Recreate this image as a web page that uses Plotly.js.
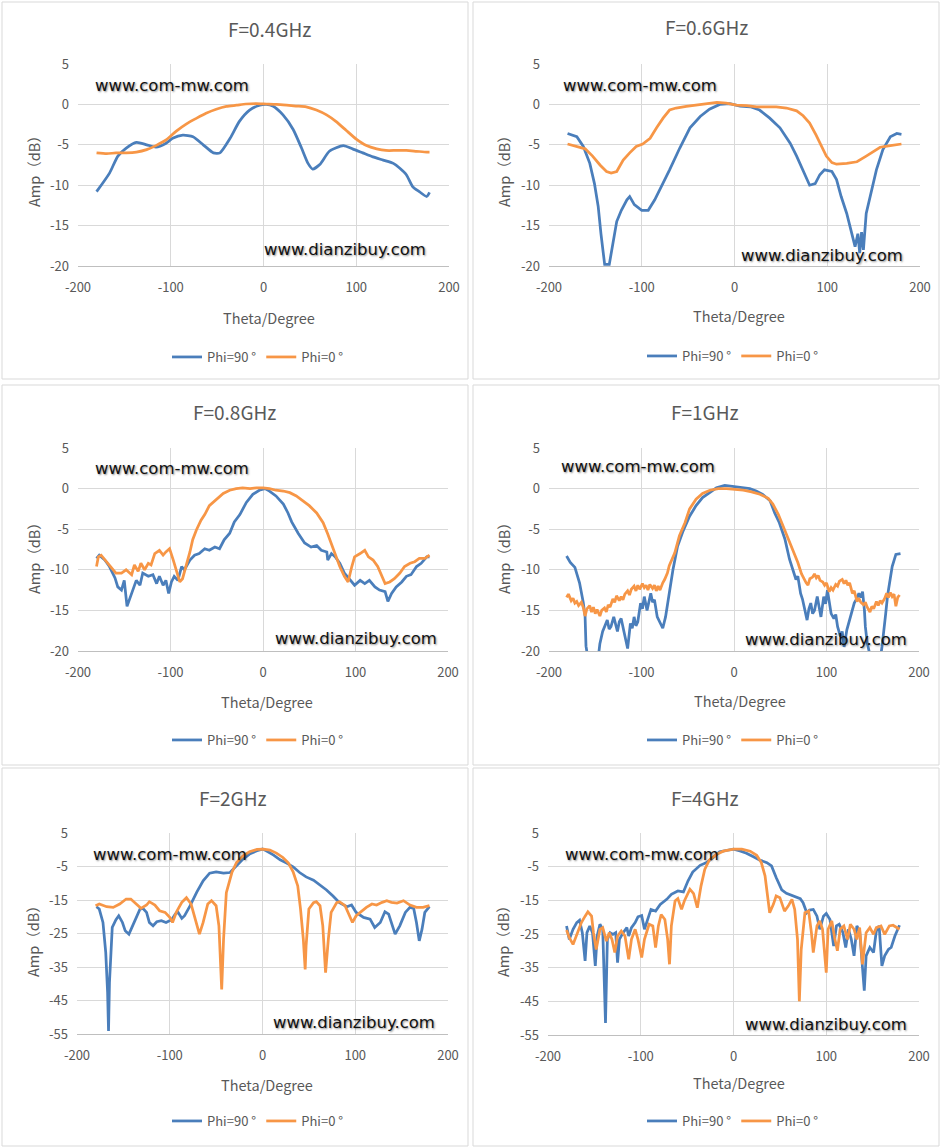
<!DOCTYPE html>
<html>
<head>
<meta charset="utf-8">
<script src="https://cdn.plot.ly/plotly-3.0.1.min.js"></script>
<style>
  html, body { margin: 0; padding: 0; background: #fff; }
  #gd { width: 941px; height: 1148px; }
</style>
</head>
<body>
<div id="gd"></div>
<script>
// panel titles and series names
var panelTitles = ['F=0.4GHz', 'F=0.6GHz', 'F=0.8GHz', 'F=1GHz', 'F=2GHz', 'F=4GHz'];
var seriesNames = ['Phi=90 °', 'Phi=0 °'];

// tick labels
var xTickVals = [-200, -100, 0, 100, 200];
var xTickText = ['-200', '-100', '0', '100', '200'];
var yTickValsA = [5, 0, -5, -10, -15, -20];
var yTickTextA = ['5', '0', '-5', '-10', '-15', '-20'];
var yTickValsB = [5, -5, -15, -25, -35, -45, -55];
var yTickTextB = ['5', '-5', '-15', '-25', '-35', '-45', '-55'];

// F=0.4GHz
var t90_04 = [-180,-166,-157,-148,-137,-126,-116,-105,-98,-87,-76,-65,-54,-47,-36,-26,-15,-4,3,10,21,32,41,48,53,61,71,86,96,107,118,129,140,147,154,161,168,176,179];
var a90_04 = [-10.8,-8.5,-6.4,-5.4,-4.7,-5.0,-5.3,-4.8,-4.2,-3.8,-4.0,-5.0,-6.0,-6.0,-4.2,-2.1,-0.7,-0.1,0,-0.2,-1.3,-3.1,-5.4,-7.3,-8.0,-7.4,-5.8,-5.1,-5.5,-6.0,-6.5,-6.9,-7.3,-7.9,-8.7,-10.2,-10.8,-11.4,-10.9];
var t0_04 = [-180,-169,-159,-148,-137,-126,-116,-105,-94,-83,-72,-62,-51,-40,-29,-19,-8,3,14,25,35,46,57,68,78,89,100,111,122,132,143,154,165,176,179];
var a0_04 = [-6.0,-6.1,-6.0,-6.0,-5.9,-5.6,-5.1,-4.4,-3.3,-2.4,-1.7,-1.1,-0.6,-0.25,-0.1,0.05,0.1,0.05,0,-0.1,-0.2,-0.3,-0.7,-1.3,-2.1,-3.2,-4.3,-5.1,-5.5,-5.7,-5.7,-5.7,-5.8,-5.9,-5.9];

// F=0.6GHz
var t90_06 = [-180,-170,-163,-156,-151,-147,-144,-140,-135,-131,-127,-122,-116,-113,-108,-100,-93,-86,-79,-70,-59,-48,-37,-27,-16,-5,6,17,27,38,49,60,67,74,81,87,92,97,105,110,115,121,126,130,133,135,137,139,142,148,153,160,168,175,180];
var a90_06 = [-3.6,-4.0,-5.2,-7.3,-9.8,-12.6,-16.0,-19.8,-19.8,-17.2,-14.5,-13.1,-11.8,-11.4,-12.4,-13.1,-13.1,-11.8,-10.2,-8.1,-5.4,-2.9,-1.5,-0.6,0,0.1,-0.2,-0.3,-0.7,-1.7,-2.9,-4.8,-6.4,-8.3,-10.0,-9.8,-8.7,-8.1,-8.3,-9.3,-11.4,-13.5,-16.0,-17.6,-16.0,-18.4,-15.8,-18.0,-13.5,-10.6,-8.1,-5.6,-4.0,-3.6,-3.7];
var t0_06 = [-180,-170,-161,-153,-145,-138,-133,-127,-120,-113,-106,-99,-91,-84,-77,-70,-63,-52,-41,-30,-19,-9,2,13,24,35,45,56,67,74,81,88,94,99,105,110,121,132,142,150,157,168,180];
var a0_06 = [-4.9,-5.2,-5.5,-6.4,-7.5,-8.3,-8.5,-8.3,-6.9,-6.0,-5.2,-4.9,-4.2,-2.9,-1.7,-0.7,-0.45,-0.25,-0.1,0.1,0.25,0.15,-0.1,-0.15,-0.3,-0.3,-0.3,-0.45,-0.8,-1.4,-2.3,-3.8,-5.2,-6.4,-7.2,-7.4,-7.3,-7.1,-6.4,-5.8,-5.3,-5.1,-4.9];

// F=0.8GHz
var t90_08 = [-180,-177,-171,-166,-160,-157,-153,-150,-147,-143,-141,-137,-133,-130,-124,-119,-115,-112,-108,-105,-102,-99,-96,-92,-88,-85,-79,-74,-69,-63,-58,-52,-47,-42,-36,-31,-25,-18,-11,-4,2,7,14,22,27,31,38,45,52,58,63,69,70,74,78,83,88,94,99,105,110,115,121,126,132,135,139,144,150,155,160,166,171,177,180];
var a90_08 = [-8.6,-8.2,-8.8,-9.6,-11.0,-12.1,-12.5,-11.3,-14.5,-13.3,-12.5,-11.3,-11.9,-10.4,-10.8,-10.6,-11.7,-10.8,-11.9,-11.3,-12.9,-11.5,-10.8,-11.3,-9.6,-10.0,-8.8,-8.2,-8.0,-7.4,-7.6,-7.2,-7.4,-6.3,-5.5,-4.1,-3.2,-1.7,-0.7,-0.2,0,-0.3,-0.9,-1.9,-3.0,-4.1,-5.5,-6.7,-7.2,-7.0,-7.6,-7.8,-8.8,-8.0,-8.4,-9.2,-10.4,-11.3,-11.9,-11.3,-11.7,-11.3,-12.1,-12.5,-12.7,-13.9,-12.9,-12.1,-11.5,-10.8,-10.6,-9.6,-9.2,-8.4,-8.4];
var t0_08 = [-180,-178,-175,-169,-164,-159,-153,-148,-142,-139,-135,-132,-128,-124,-121,-117,-112,-108,-105,-101,-97,-94,-90,-87,-83,-79,-76,-72,-67,-63,-58,-50,-43,-36,-29,-22,-14,-7,0,7,14,22,29,36,43,50,58,65,70,74,78,83,88,92,96,99,105,110,114,119,124,128,132,137,142,148,153,159,164,169,175,180];
var a0_08 = [-9.6,-8.4,-8.2,-9.0,-9.6,-10.4,-10.4,-10.0,-10.6,-9.4,-10.2,-9.2,-10.0,-9.2,-9.4,-8.0,-7.6,-8.2,-7.8,-7.4,-8.8,-10.0,-11.5,-11.1,-9.6,-7.8,-6.3,-5.1,-3.9,-3.2,-2.1,-1.3,-0.6,-0.2,0,0.1,0,0.1,0.1,0,-0.2,-0.3,-0.5,-0.9,-1.5,-2.1,-3.0,-4.2,-5.6,-6.8,-8.0,-9.6,-10.8,-11.5,-9.6,-8.4,-8.0,-7.6,-8.4,-8.8,-9.6,-10.6,-11.7,-11.5,-11.1,-10.4,-9.6,-9.2,-9.0,-8.6,-8.6,-8.2];

// F=1GHz
var t90_1 = [-181,-177,-172,-167,-163,-161,-160,-155,-149,
  -145,-142,-140,-137,-135,-133,-130,-128,-126,-124,-122,-119,-117,-115,-112,-110,-108,-106,-104,-101,-99,-97,-94,-92,-90,-88,-86,-83,-80,-77,-74,-72,-70,-66,
  -61,-55,-48,-41,-34,-26,-19,-10,-1,8,17,24,31,39,44,49,55,
  60,64,67,69,72,74,76,79,81,83,85,87,90,92,94,97,99,101,103,105,108,110,112,115,117,119,122,124,126,128,130,133,135,137,139,141,142,144,146,150,155,158,160,162,164,166,168,171,175,180];
var a90_1 = [-8.3,-9.1,-9.7,-11.6,-14.0,-15.7,-19.4,-23,-23,
  -19.1,-17.6,-17.0,-16.2,-17.3,-17.0,-15.8,-16.9,-17.6,-16.4,-16.0,-17.6,-18.5,-19.7,-16.6,-17.2,-15.8,-16.9,-16.4,-14.1,-14.8,-13.3,-15.0,-13.8,-12.9,-14.0,-13.7,-15.8,-16.6,-17.2,-15.8,-14.3,-12.9,-10.0,
  -7.1,-5.2,-3.4,-2.1,-1.1,-0.4,0.1,0.4,0.25,0.1,0,-0.3,-0.7,-1.5,-3.0,-4.2,-6.2,
  -8.7,-10.3,-11.2,-10.8,-12.9,-13.6,-14.5,-16.2,-14.8,-14.1,-15.4,-15.0,-13.3,-14.6,-15.8,-13.3,-14.2,-12.5,-13.8,-15.4,-16.0,-15.5,-17.0,-18.2,-17.6,-19.5,-17.4,-16.6,-15.8,-15.0,-14.1,-13.5,-12.9,-13.4,-12.7,-15.0,-17.0,-19.0,-19.9,-22,-22,-21,-19.5,-17.0,-15.4,-13.2,-11.7,-9.6,-8.1,-8.0];
var t0_1 = [-181,-179,-176,-174,-172,-170,-168,-165,-163,-161,-159,-156,-154,-152,-150,-148,-145,-143,-140,-138,-136,-134,-131,-129,-127,-124,-122,-120,-118,-115,-113,-111,-108,-106,-104,-102,-99,-97,-95,-93,-91,-88,-86,-84,-82,-80,-77,-75,-72,-70,
  -64,-59,-53,-48,-41,-34,-26,-17,-8,1,10,19,28,37,42,48,53,58,64,69,
  73,75,78,80,82,85,87,89,91,93,96,98,100,103,105,107,110,112,114,117,119,121,123,125,128,130,133,135,137,140,142,144,147,149,151,154,156,158,160,163,165,167,169,171,173,175,177,179];
var a0_1 = [-13.4,-13.0,-13.8,-13.5,-14.1,-13.9,-14.4,-14.0,-14.6,-15.7,-14.8,-14.4,-15.2,-14.6,-15.4,-14.9,-15.7,-15.0,-14.7,-15.2,-14.3,-14.6,-13.6,-14.0,-13.2,-13.8,-13.3,-13.7,-13.0,-12.6,-13.1,-12.4,-12.0,-12.6,-11.9,-12.4,-11.7,-12.2,-11.9,-12.5,-11.8,-12.3,-11.9,-12.6,-12.0,-12.5,-11.6,-11.2,-10.4,-9.5,
  -7.9,-5.8,-4.2,-2.5,-1.3,-0.6,-0.2,0,0,-0.1,-0.2,-0.4,-0.7,-1.2,-1.9,-3.2,-4.6,-6.2,-7.9,-9.1,
  -10.5,-11.0,-11.6,-11.9,-11.1,-10.9,-10.5,-11.0,-10.7,-11.3,-11.5,-11.9,-11.6,-12.7,-12.2,-12.5,-11.8,-12.0,-11.4,-11.2,-11.7,-11.3,-11.9,-11.6,-12.9,-12.6,-13.9,-13.5,-14.0,-14.3,-14.0,-14.6,-15.2,-14.5,-14.8,-13.9,-14.4,-13.8,-14.1,-13.5,-12.9,-13.4,-12.8,-13.3,-13.0,-14.5,-13.4,-13.1];

// F=2GHz
var t90_2 = [-179,-176,-172,-169,-167,-166,-165,-163,-162,-158,-155,-151,-148,-144,-140,-136,-132,-129,-125,-122,-118,-114,-109,-104,-98,-94,-91,-87,-84,-78,-71,-64,-57,-50,-42,-35,-28,-21,-14,-6,0,4,12,19,26,33,40,47,55,62,69,76,83,91,96,101,109,116,121,127,132,136,139,143,148,154,159,163,166,169,172,175,180];
var a90_2 = [-17.0,-17.7,-21.7,-30.7,-42.7,-54.1,-39.7,-27.7,-23.2,-20.9,-19.7,-21.7,-24.2,-25.2,-22.7,-19.7,-17.7,-17.5,-18.7,-21.7,-22.7,-21.5,-21.2,-21.7,-20.9,-19.2,-18.7,-20.5,-19.7,-16.7,-12.7,-9.3,-7.0,-6.6,-7.0,-6.8,-4.8,-2.8,-1.3,-0.3,0.2,-0.3,-1.6,-3.0,-4.0,-5.1,-6.8,-8.1,-9.1,-10.6,-12.0,-13.8,-15.8,-17.0,-16.5,-18.7,-20.2,-20.7,-23.2,-21.7,-18.5,-19.2,-21.7,-25.2,-22.7,-18.7,-17.2,-17.5,-21.7,-27.2,-23.7,-18.7,-17.0];
var t0_2 = [-180,-176,-168,-161,-154,-147,-142,-136,-131,-125,-122,-116,-111,-105,-100,-97,-93,-87,-82,-77,-71,-68,-64,-59,-55,-50,-47,-44,-42,-39,-33,-28,-21,-14,-6,1,8,15,22,28,33,38,41,44,46,47,50,55,58,62,65,68,71,74,80,83,89,92,97,101,107,112,118,123,129,134,139,145,152,159,166,173,180];
var a0_2 = [-16.7,-16.2,-17.0,-17.2,-16.2,-14.7,-14.7,-16.2,-17.5,-16.5,-15.5,-16.5,-18.2,-18.7,-20.2,-21.7,-18.7,-15.7,-14.3,-16.2,-21.7,-25.2,-21.7,-16.2,-15.2,-16.7,-22.7,-41.7,-26.7,-12.8,-6.8,-3.8,-1.8,-0.6,0.1,0.2,-0.1,-1.0,-2.3,-4.0,-6.6,-10.8,-17.7,-26.7,-35.7,-28.7,-17.7,-15.8,-15.5,-16.7,-22.7,-36.7,-26.7,-18.7,-15.8,-15.5,-16.7,-18.7,-21.7,-19.7,-18.2,-17.2,-16.2,-16.5,-15.7,-15.2,-15.7,-15.9,-15.2,-16.5,-17.2,-17.2,-16.7];

// F=4GHz
var t90_4 = [-180,-177,-173,-169,-166,-163,-160,-158,-155,-152,-149,-147,-144,-141,-138,-136,-133,-130,-127,-125,-123,-119,-115,-113,-110,-106,-103,-99,-96,-93,-89,-84,-79,-72,-67,-60,-54,-49,-44,-36,-29,-22,-15,-8,0,7,14,21,28,36,41,46,52,57,64,72,75,79,82,86,90,93,97,100,104,108,111,114,118,121,124,127,130,133,136,141,143,147,151,154,157,160,163,167,170,174,179];
var a90_4 = [-22.6,-26.6,-23.6,-21.6,-20.9,-24.6,-33.0,-24.6,-22.6,-24.6,-34.5,-25.6,-22.1,-23.6,-51.4,-26.6,-24.6,-25.1,-24.6,-33.5,-26.6,-24.6,-23.1,-25.6,-23.1,-21.6,-19.9,-19.5,-23.6,-21.1,-17.7,-18.2,-16.2,-14.7,-13.2,-12.2,-12.5,-9.2,-6.6,-4.6,-3.8,-2.3,-0.6,-0.2,0.2,-0.3,-1.0,-2.0,-3.0,-3.8,-4.8,-8.2,-11.9,-12.9,-13.7,-14.5,-15.7,-18.7,-17.9,-17.7,-19.7,-23.6,-19.7,-18.9,-20.7,-28.6,-22.6,-22.1,-24.6,-29.0,-23.6,-26.6,-31.5,-22.6,-24.1,-41.8,-31.5,-29.0,-30.5,-24.1,-22.6,-34.5,-31.5,-29.6,-29.0,-25.6,-22.4];
var t0_4 = [-180,-177,-173,-169,-164,-160,-157,-153,-151,-148,-144,-141,-137,-134,-131,-128,-125,-121,-117,-113,-110,-106,-103,-99,-96,-91,-87,-84,-81,-78,-74,-71,-69,-67,-63,-60,-56,-53,-47,-43,-39,-35,-31,-26,-18,-11,0,9,18,25,30,34,37,39,43,46,50,55,59,63,66,69,71,73,77,81,84,86,90,93,96,100,102,106,109,112,115,119,123,126,130,133,136,139,143,147,151,154,159,163,168,172,179];
var a0_4 = [-23.8,-26.1,-28.1,-25.1,-21.6,-19.7,-18.4,-19.7,-24.6,-29.6,-23.6,-23.1,-27.1,-24.6,-26.6,-30.5,-25.6,-24.1,-25.6,-32.5,-26.6,-23.6,-26.6,-32.0,-26.6,-22.1,-22.6,-29.0,-22.6,-19.2,-20.7,-26.6,-34.0,-22.6,-15.2,-14.5,-17.7,-15.2,-11.7,-13.0,-17.2,-10.7,-5.8,-3.0,-1.3,-0.4,0.2,0.2,-0.4,-1.6,-3.8,-7.7,-13.7,-18.7,-16.2,-13.7,-14.2,-18.2,-16.7,-14.7,-17.7,-26.6,-45.0,-29.6,-18.7,-18.2,-24.6,-30.5,-22.6,-21.1,-23.6,-36.5,-23.6,-21.1,-26.1,-30.0,-23.6,-22.6,-26.6,-22.1,-23.6,-26.6,-23.1,-34.0,-24.6,-23.1,-25.1,-23.1,-22.6,-25.1,-22.6,-22.4,-23.6];

var blue = '#4A7EBB', orange = '#F79646';
var grey = '#595959', gridGrey = '#D9D9D9';
var cjk = '"Noto Sans CJK SC", "Noto Sans", sans-serif';
var W = 941, H = 1148;

// pixel -> paper helpers
function fx(px) { return px / W; }
function fy(py) { return 1 - py / H; }

// where each panel sits (pixels)
var panels = [
  {d90: [t90_04, a90_04], d0: [t0_04, a0_04], long: false, box: [2, 2, 468, 379], plot: [78, 64, 449, 266],
   title: [269, 28], xt: [269, 317], yt: [33, 168], leg: [258, 357], wm1: [93, 86], wm2: [262, 250], spline: true},
  {d90: [t90_06, a90_06], d0: [t0_06, a0_06], long: false, box: [473, 2, 939, 379], plot: [549, 64, 920, 266],
   title: [706, 27], xt: [739, 316], yt: [503, 168], leg: [733, 356], wm1: [561, 85], wm2: [739, 255]},
  {d90: [t90_08, a90_08], d0: [t0_08, a0_08], long: false, box: [2, 385, 468, 765], plot: [78, 448, 448, 651],
   title: [234, 411], xt: [267, 701], yt: [33, 555], leg: [258, 740], wm1: [93, 468], wm2: [273, 638]},
  {d90: [t90_1, a90_1], d0: [t0_1, a0_1], long: false, box: [473, 385, 939, 765], plot: [549, 448, 919, 651],
   title: [705, 411], xt: [740, 700], yt: [503, 555], leg: [733, 740], wm1: [559, 466], wm2: [743, 639]},
  {d90: [t90_2, a90_2], d0: [t0_2, a0_2], long: true, box: [2, 768, 468, 1146], plot: [77, 833, 448, 1034],
   title: [233, 797], xt: [267, 1084], yt: [33, 938], leg: [258, 1121], wm1: [91, 854], wm2: [271, 1022]},
  {d90: [t90_4, a90_4], d0: [t0_4, a0_4], long: true, box: [473, 768, 939, 1146], plot: [548, 833, 919, 1035],
   title: [705, 797], xt: [739, 1082], yt: [503, 938], leg: [733, 1121], wm1: [563, 854], wm2: [743, 1024]}
];

var data = [], annotations = [], shapes = [];
var layout = {
  width: W, height: H,
  margin: {l: 0, r: 0, t: 0, b: 0},
  paper_bgcolor: '#fff', plot_bgcolor: '#fff',
  font: {family: cjk, color: grey},
  showlegend: true
};

panels.forEach(function (p, i) {
  var n = i + 1;
  var xa = 'x' + (n > 1 ? n : ''), ya = 'y' + (n > 1 ? n : '');
  var lg = 'legend' + (n > 1 ? n : '');
  var lineShape = p.spline ? 'spline' : 'linear';

  data.push({
    x: p.d90[0], y: p.d90[1], name: seriesNames[0], type: 'scatter', mode: 'lines',
    xaxis: xa, yaxis: ya, legend: lg,
    line: {color: blue, width: 2.75, shape: lineShape, smoothing: 0.6}
  });
  data.push({
    x: p.d0[0], y: p.d0[1], name: seriesNames[1], type: 'scatter', mode: 'lines',
    xaxis: xa, yaxis: ya, legend: lg,
    line: {color: orange, width: 2.75, shape: lineShape, smoothing: 0.6}
  });

  layout['xaxis' + (n > 1 ? n : '')] = {
    domain: [fx(p.plot[0]), fx(p.plot[2])], anchor: ya,
    range: [-200, 200], tickmode: 'array', tickvals: xTickVals, ticktext: xTickText,
    showgrid: true, gridcolor: gridGrey, gridwidth: 1, zeroline: false,
    showline: true, linecolor: '#BFBFBF', linewidth: 1, ticks: '',
    tickfont: {family: cjk, size: 13, color: grey}, ticklabelstandoff: 9, fixedrange: true
  };
  layout['yaxis' + (n > 1 ? n : '')] = {
    domain: [fy(p.plot[3]), fy(p.plot[1])], anchor: xa,
    range: p.long ? [-55, 5] : [-20, 5], tickmode: 'array',
    tickvals: p.long ? yTickValsB : yTickValsA, ticktext: p.long ? yTickTextB : yTickTextA,
    showgrid: true, gridcolor: gridGrey, gridwidth: 1, zeroline: false, showline: false, ticks: '',
    tickfont: {family: cjk, size: 13, color: grey}, ticklabelstandoff: 8, fixedrange: true
  };
  layout[lg] = {
    x: fx(p.leg[0]), y: fy(p.leg[1]), xanchor: 'center', yanchor: 'middle',
    orientation: 'h', itemwidth: 30, bgcolor: 'rgba(0,0,0,0)',
    font: {family: cjk, size: 13, color: grey}
  };

  shapes.push({type: 'rect', xref: 'paper', yref: 'paper',
    x0: fx(p.box[0]), x1: fx(p.box[2]), y0: fy(p.box[3]), y1: fy(p.box[1]),
    line: {color: gridGrey, width: 1}, layer: 'below'});

  annotations.push({text: panelTitles[i], xref: 'paper', yref: 'paper', x: fx(p.title[0]), y: fy(p.title[1]),
    xanchor: 'center', yanchor: 'middle', showarrow: false, font: {family: cjk, size: 19, color: grey}});
  annotations.push({text: 'Theta/Degree', xref: 'paper', yref: 'paper', x: fx(p.xt[0]), y: fy(p.xt[1]),
    xanchor: 'center', yanchor: 'middle', showarrow: false, font: {family: cjk, size: 14.5, color: grey}});
  annotations.push({text: 'Amp（dB）', xref: 'paper', yref: 'paper', x: fx(p.yt[0]), y: fy(p.yt[1]),
    xanchor: 'center', yanchor: 'middle', textangle: -90, showarrow: false, font: {family: cjk, size: 14.5, color: grey}});
  // watermarks
  var wmFont = {family: '"DejaVu Sans", Verdana, sans-serif', size: 16.5, color: '#111',
    shadow: '1px 1px 2px rgba(0,0,0,0.45)'};
  annotations.push({text: 'www.com-mw.com', xref: 'paper', yref: 'paper', x: fx(p.wm1[0]), y: fy(p.wm1[1]),
    xanchor: 'left', yanchor: 'middle', showarrow: false, font: wmFont});
  annotations.push({text: 'www.dianzibuy.com', xref: 'paper', yref: 'paper', x: fx(p.wm2[0]), y: fy(p.wm2[1]),
    xanchor: 'left', yanchor: 'middle', showarrow: false, font: wmFont});
});

layout.shapes = shapes;
layout.annotations = annotations;

Plotly.newPlot('gd', data, layout, {displayModeBar: false, staticPlot: true});
</script>
</body>
</html>
